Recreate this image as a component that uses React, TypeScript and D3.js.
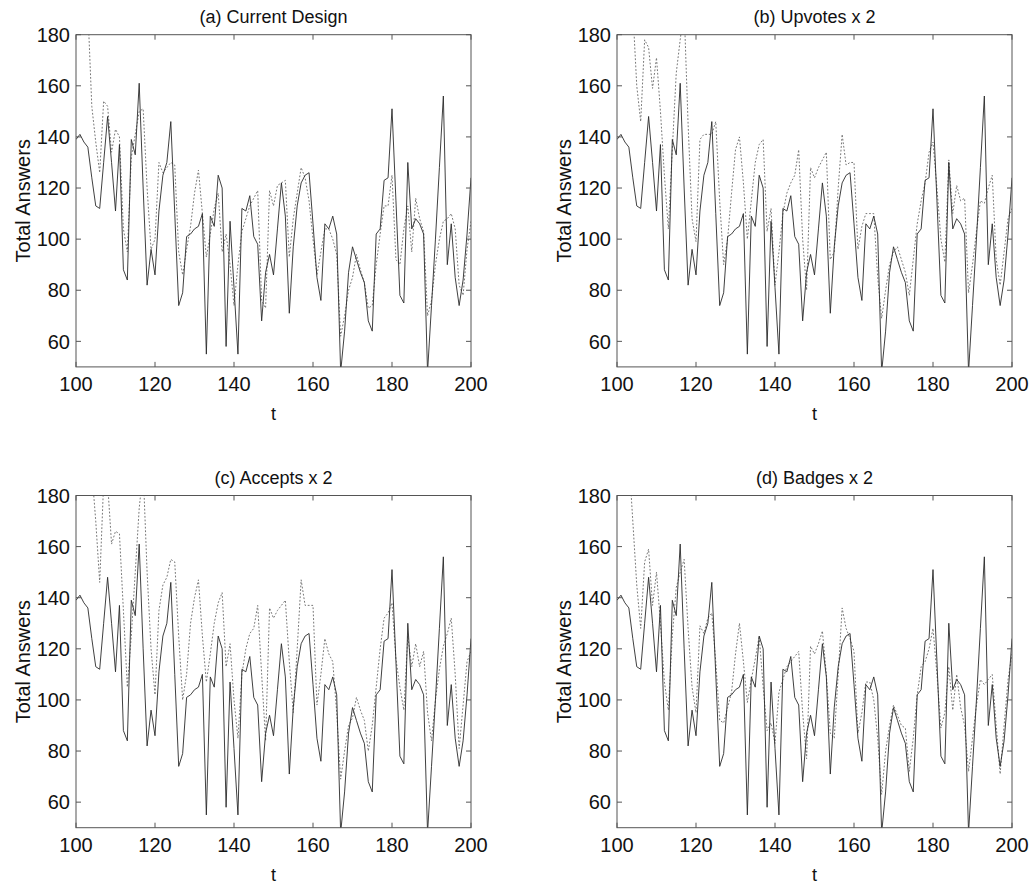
import React from "react";
import * as d3 from "d3";

const tValues: number[] = d3.range(100, 201);

const actual: number[] = [
  139, 141, 138, 136, 124, 113, 112, 130, 148, 130,
  111, 137, 88, 84, 139, 133, 161, 120, 82, 96,
  86, 111, 125, 130, 146, 110, 74, 79, 101, 102,
  104, 105, 110, 55, 109, 105, 125, 120, 58, 107,
  81, 55, 112, 111, 117, 101, 98, 68, 87, 94,
  86, 104, 122, 109, 71, 97, 113, 122, 125, 126,
  106, 85, 76, 106, 104, 109, 102, 48, 64, 87,
  97, 92, 87, 83, 68, 64, 102, 104, 123, 124,
  151, 115, 78, 75, 130, 104, 108, 106, 102, 48,
  74, 100, 128, 156, 90, 106, 85, 74, 84, 102,
  124,
];

const predCurrent: number[] = [
  205, 200, 195, 190, 152, 138, 126, 154, 152, 134,
  143, 140, 104, 95, 132, 141, 150, 151, 120, 96,
  100, 130, 126, 128, 130, 129, 95, 86, 96, 105,
  118, 127, 110, 93, 102, 112, 118, 95, 102, 90,
  74, 90, 103, 108, 113, 116, 119, 76, 73, 119,
  113, 121, 122, 123, 93, 108, 118, 128, 124, 115,
  100, 86, 95, 104, 104, 100, 94, 62, 70, 80,
  85, 94, 88, 83, 73, 74, 90, 102, 113, 113,
  125, 92, 90, 104, 113, 95, 116, 108, 103, 70,
  76, 90, 100, 107, 108, 110, 104, 82, 78, 96,
  107,
];

const predUpvotes: number[] = [
  215, 210, 205, 200, 190, 160, 146, 178, 175, 159,
  171, 150, 125, 104, 135, 165, 178, 190, 145, 108,
  99, 139, 141, 141, 141, 146, 115, 90, 100, 118,
  135, 140, 122, 100, 115, 130, 137, 139, 103, 112,
  82, 95, 110, 118, 122, 125, 135, 100, 80, 128,
  124, 128, 131, 134, 92, 95, 120, 141, 129, 130,
  130, 96, 105, 110, 110, 110, 85, 69, 80, 90,
  95, 97, 92, 87, 78, 92, 106, 115, 122, 134,
  138, 120, 100, 91, 131, 110, 121, 115, 116, 79,
  90, 103, 115, 114, 120, 125, 92, 82, 95, 108,
  112,
];

const predAccepts: number[] = [
  210, 205, 200, 195, 190, 170, 146, 185, 185, 161,
  166, 165, 135, 105, 125, 150, 175, 190, 150, 120,
  102, 135, 145, 148, 155, 154, 125, 100, 110, 130,
  140, 147, 125, 107, 118, 130, 138, 142, 113, 122,
  100, 85, 110, 120, 126, 128, 137, 110, 84, 136,
  132, 135, 137, 139, 115, 95, 120, 147, 137, 137,
  137, 98, 110, 124, 118, 115, 95, 69, 80, 90,
  93, 101, 96, 92, 80, 90, 105, 120, 132, 134,
  138, 116, 105, 96, 125, 113, 122, 113, 119, 95,
  84, 100, 112, 121, 126, 132, 110, 81, 98, 115,
  119,
];

const predBadges: number[] = [
  215, 210, 205, 195, 170, 145, 128, 154, 159, 137,
  150, 130, 107, 96, 125, 144, 150, 155, 128, 105,
  95, 129, 126, 132, 134, 115, 92, 91, 97, 103,
  118, 130, 115, 99, 108, 116, 125, 105, 88, 91,
  83, 103, 108, 113, 115, 117, 119, 95, 77, 121,
  118, 122, 127, 110, 87, 85, 110, 136, 128, 124,
  119, 87, 95, 107, 107, 100, 85, 63, 80, 90,
  98, 94, 90, 89, 72, 85, 102, 113, 115, 120,
  128, 110, 89, 95, 113, 96, 110, 97, 90, 72,
  85, 98, 108, 106, 108, 110, 90, 71, 90, 108,
  118,
];

const panelTitles: string[] = [
  "(a) Current Design",
  "(b) Upvotes x 2",
  "(c) Accepts x 2",
  "(d) Badges x 2",
];
const predictions: number[][] = [predCurrent, predUpvotes, predAccepts, predBadges];

const xTicks: number[] = [100, 120, 140, 160, 180, 200];
const yTicks: number[] = [60, 80, 100, 120, 140, 160, 180];
const xDomain: [number, number] = [100, 200];
const yDomain: [number, number] = [50, 180];

const panelLayout = [
  { left: 76, top: 34.7 },
  { left: 617, top: 34.7 },
  { left: 76, top: 495.5 },
  { left: 617, top: 495.5 },
];
const plotW = 395;
const plotH = 332.2;
const FONT = "'Liberation Sans', Arial, Helvetica, sans-serif";

function Panel({ idx }: { idx: number }) {
  const { left, top } = panelLayout[idx];
  const right = left + plotW;
  const bottom = top + plotH;
  const x = d3.scaleLinear().domain(xDomain).range([left, right]);
  const y = d3.scaleLinear().domain(yDomain).range([bottom, top]);
  const line = d3
    .line<number>()
    .x((_, i) => x(tValues[i]))
    .y((d) => y(d));
  const clipId = `clip-${idx}`;
  const tickLen = 5;
  const axisColor = "#555";
  return (
    <g>
      <defs>
        <clipPath id={clipId}>
          <rect x={left} y={top} width={plotW} height={plotH} />
        </clipPath>
      </defs>
      <rect x={left} y={top} width={plotW} height={plotH} fill="#fff" />
      <g clipPath={`url(#${clipId})`}>
        <path
          d={line(predictions[idx]) || ""}
          fill="none"
          stroke="#777"
          strokeWidth={1}
          strokeDasharray="1.8,1.8"
        />
        <path
          d={line(actual) || ""}
          fill="none"
          stroke="#2a2a2a"
          strokeWidth={0.9}
          strokeLinejoin="miter"
        />
      </g>
      <rect
        x={left}
        y={top}
        width={plotW}
        height={plotH}
        fill="none"
        stroke={axisColor}
        strokeWidth={1}
      />
      {xTicks.map((t) => (
        <g key={`xt${t}`}>
          <line x1={x(t)} x2={x(t)} y1={bottom} y2={bottom - tickLen} stroke={axisColor} />
          <line x1={x(t)} x2={x(t)} y1={top} y2={top + tickLen} stroke={axisColor} />
          <text
            x={x(t)}
            y={bottom + 24}
            textAnchor="middle"
            fontSize={20}
            fontFamily={FONT}
            fill="#111"
          >
            {t}
          </text>
        </g>
      ))}
      {yTicks.map((v) => (
        <g key={`yt${v}`}>
          <line x1={left} x2={left + tickLen} y1={y(v)} y2={y(v)} stroke={axisColor} />
          <line x1={right} x2={right - tickLen} y1={y(v)} y2={y(v)} stroke={axisColor} />
          <text
            x={left - 6}
            y={y(v)}
            dy="0.36em"
            textAnchor="end"
            fontSize={20}
            fontFamily={FONT}
            fill="#111"
          >
            {v}
          </text>
        </g>
      ))}
      <text
        x={(left + right) / 2}
        y={top - 12}
        textAnchor="middle"
        fontSize={18}
        fontFamily={FONT}
        fill="#111"
      >
        {panelTitles[idx]}
      </text>
      <text
        x={(left + right) / 2}
        y={bottom + 53}
        textAnchor="middle"
        fontSize={18}
        fontFamily={FONT}
        fill="#111"
      >
        t
      </text>
      <text
        transform={`translate(${left - 46},${(top + bottom) / 2}) rotate(-90)`}
        textAnchor="middle"
        fontSize={20}
        fontFamily={FONT}
        fill="#111"
      >
        Total Answers
      </text>
    </g>
  );
}

export default function App() {
  return (
    <svg
      width={1036}
      height={892}
      style={{ position: "absolute", left: 0, top: 0, background: "#fff" }}
    >
      <rect x={0} y={0} width={1036} height={892} fill="#fff" />
      {[0, 1, 2, 3].map((i) => (
        <Panel key={i} idx={i} />
      ))}
    </svg>
  );
}
